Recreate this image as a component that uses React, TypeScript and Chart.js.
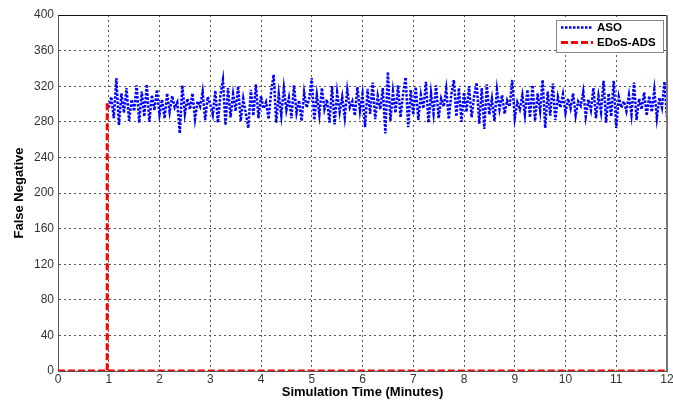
import React, { useEffect, useRef } from "react";
import { Chart, registerables } from "chart.js";

Chart.register(...registerables);

// ---- Data ----
const xTickValues = [0, 1, 2, 3, 4, 5, 6, 7, 8, 9, 10, 11, 12];
const yTickValues = [0, 40, 80, 120, 160, 200, 240, 280, 320, 360, 400];

const seriesNames = ["ASO", "EDoS-ADS"];

// ASO: sampled every 0.05 minute from t = 1.00 to t = 12.00
const asoStart = 1;
const asoStep = 0.05;
const asoValues = [
  296, 308, 284, 329, 276, 312, 290, 318, 281, 305, 292, 321, 279, 314, 286, 322, 280, 310, 293, 316,
  288, 305, 284, 312, 291, 309, 296, 302, 267, 321, 289, 306, 294, 312, 283, 303, 297, 314, 282, 308,
  300, 288, 315, 279, 310, 327, 276, 318, 285, 311, 292, 320, 281, 306, 290, 273, 316, 287, 322, 284,
  309, 295, 302, 283, 314, 333, 279, 311, 287, 318, 293, 307, 284, 321, 290, 304, 281, 313, 296, 306,
  329, 282, 310, 288, 318, 294, 305, 279, 320, 277, 313, 291, 308, 285, 316, 296, 303, 287, 319, 292,
  311, 274, 317, 289, 324, 283, 309, 294, 318, 267, 336, 281, 314, 290, 321, 285, 312, 330, 274, 316,
  288, 319, 282, 310, 295, 325, 279, 312, 289, 321, 284, 306, 297, 317, 283, 311, 327, 286, 318, 280,
  313, 291, 320, 285, 309, 324, 278, 318, 272, 322, 288, 306, 281, 316, 294, 310, 289, 304, 297, 327,
  284, 302, 294, 310, 288, 316, 285, 321, 281, 312, 292, 327, 273, 314, 287, 323, 282, 308, 296, 311,
  290, 306, 295, 312, 287, 303, 298, 314, 286, 305, 293, 318, 284, 309, 291, 326, 279, 312, 286, 326,
  273, 308, 296, 303, 292, 310, 288, 324, 282, 306, 294, 313, 287, 309, 291, 316, 284, 307, 296, 325,
  284,
];

// EDoS-ADS: zero, a single spike just before minute 1, then zero
const edosTimes = [0, 0.97, 0.97, 0.97, 0.98, 12];
const edosValues: (number | null)[] = [0, 0, 302, null, 0, 0];

const asoColor = "#0000ff";
const edosColor = "#ff0000";

const FONT = "'Liberation Sans', Arial, Helvetica, sans-serif";

const framePlugin = {
  id: "frame",
  afterDraw(chart: any) {
    const { ctx, chartArea } = chart;
    const { left, right, top, bottom } = chartArea;
    ctx.save();
    ctx.setLineDash([]);
    ctx.strokeStyle = "#111";
    ctx.lineWidth = 1;
    ctx.beginPath();
    ctx.moveTo(left, top + 0.5);
    ctx.lineTo(right, top + 0.5);
    ctx.stroke();
    ctx.strokeStyle = "#777";
    ctx.lineWidth = 2;
    ctx.beginPath();
    ctx.moveTo(right, top);
    ctx.lineTo(right, bottom);
    ctx.stroke();

    // legend box
    const bx = right - 111;
    const by = top + 5;
    const bw = 107;
    const bh = 32;
    ctx.fillStyle = "#ffffff";
    ctx.fillRect(bx, by, bw, bh);
    ctx.strokeStyle = "#888";
    ctx.lineWidth = 1;
    ctx.strokeRect(bx + 0.5, by + 0.5, bw, bh);

    const rows = [
      { name: seriesNames[0], color: asoColor, dash: [2.5, 1.5], width: 2.5 },
      { name: seriesNames[1], color: edosColor, dash: [7, 3], width: 3 },
    ];
    rows.forEach((r, i) => {
      const y = by + 7.5 + i * 15;
      ctx.strokeStyle = r.color;
      ctx.lineWidth = r.width;
      ctx.setLineDash(r.dash);
      ctx.beginPath();
      ctx.moveTo(bx + 5, y);
      ctx.lineTo(bx + 37, y);
      ctx.stroke();
      ctx.setLineDash([]);
      ctx.fillStyle = "#000";
      ctx.font = `bold 11.5px ${FONT}`;
      ctx.textBaseline = "middle";
      ctx.textAlign = "left";
      ctx.fillText(r.name, bx + 41, y + 0.5);
    });
    ctx.restore();
  },
};

export default function App() {
  const canvasRef = useRef<HTMLCanvasElement | null>(null);

  useEffect(() => {
    if (!canvasRef.current) return;
    const asoData = asoValues.map((v, i) => ({ x: +(asoStart + i * asoStep).toFixed(2), y: v }));
    const edosData = edosTimes.map((t, i) => ({ x: t, y: edosValues[i] }));

    const chart = new Chart(canvasRef.current, {
      type: "line",
      data: {
        datasets: [
          {
            label: seriesNames[1],
            data: edosData as any,
            borderColor: edosColor,
            borderWidth: 3,
            borderDash: [7, 3],
            pointRadius: 0,
            tension: 0,
            spanGaps: false,
            fill: false,
          },
          {
            label: seriesNames[0],
            data: asoData,
            borderColor: asoColor,
            borderWidth: 2.5,
            borderDash: [2.5, 1.5],
            pointRadius: 0,
            tension: 0,
            fill: false,
          },
        ],
      },
      options: {
        responsive: false,
        animation: false,
        devicePixelRatio: 1,
        layout: { padding: { left: 12, right: 6, top: 15, bottom: 0 } },
        plugins: {
          legend: { display: false },
          tooltip: { enabled: false },
        },
        scales: {
          x: {
            type: "linear",
            min: 0,
            max: 12,
            afterBuildTicks: (scale: any) => {
              scale.ticks = xTickValues.map((v) => ({ value: v }));
            },
            afterFit: (scale: any) => {
              scale.height = 29;
              scale.paddingLeft = 0;
              scale.paddingRight = 0;
            },
            ticks: {
              color: "#333",
              font: { family: FONT, size: 12 },
              padding: 1,
              maxRotation: 0,
              autoSkip: false,
            },
            grid: {
              color: "#555",
              lineWidth: 1,
              drawTicks: false,
            },
            border: { display: true, color: "#555", width: 1, dash: [2, 3] },
            title: {
              display: true,
              text: "Simulation Time (Minutes)",
              color: "#000",
              font: { family: FONT, size: 13, weight: "bold" },
              padding: 0,
            },
          },
          y: {
            type: "linear",
            min: 0,
            max: 400,
            afterBuildTicks: (scale: any) => {
              scale.ticks = yTickValues.map((v) => ({ value: v }));
            },
            afterFit: (scale: any) => {
              scale.width = 46;
              scale.paddingTop = 0;
              scale.paddingBottom = 0;
            },
            ticks: {
              color: "#333",
              font: { family: FONT, size: 12 },
              padding: 4,
              autoSkip: false,
            },
            grid: {
              color: "#555",
              lineWidth: 1,
              drawTicks: false,
            },
            border: { display: true, color: "#555", width: 1, dash: [2, 3] },
            title: {
              display: true,
              text: "False Negative",
              color: "#000",
              font: { family: FONT, size: 13, weight: "bold" },
              padding: 0,
            },
          },
        },
      } as any,
      plugins: [framePlugin],
    });
    return () => chart.destroy();
  }, []);

  return (
    <div style={{ position: "absolute", left: 0, top: 0, width: 673, height: 400, background: "#fff" }}>
      <canvas ref={canvasRef} width={673} height={400} style={{ display: "block" }} />
    </div>
  );
}
